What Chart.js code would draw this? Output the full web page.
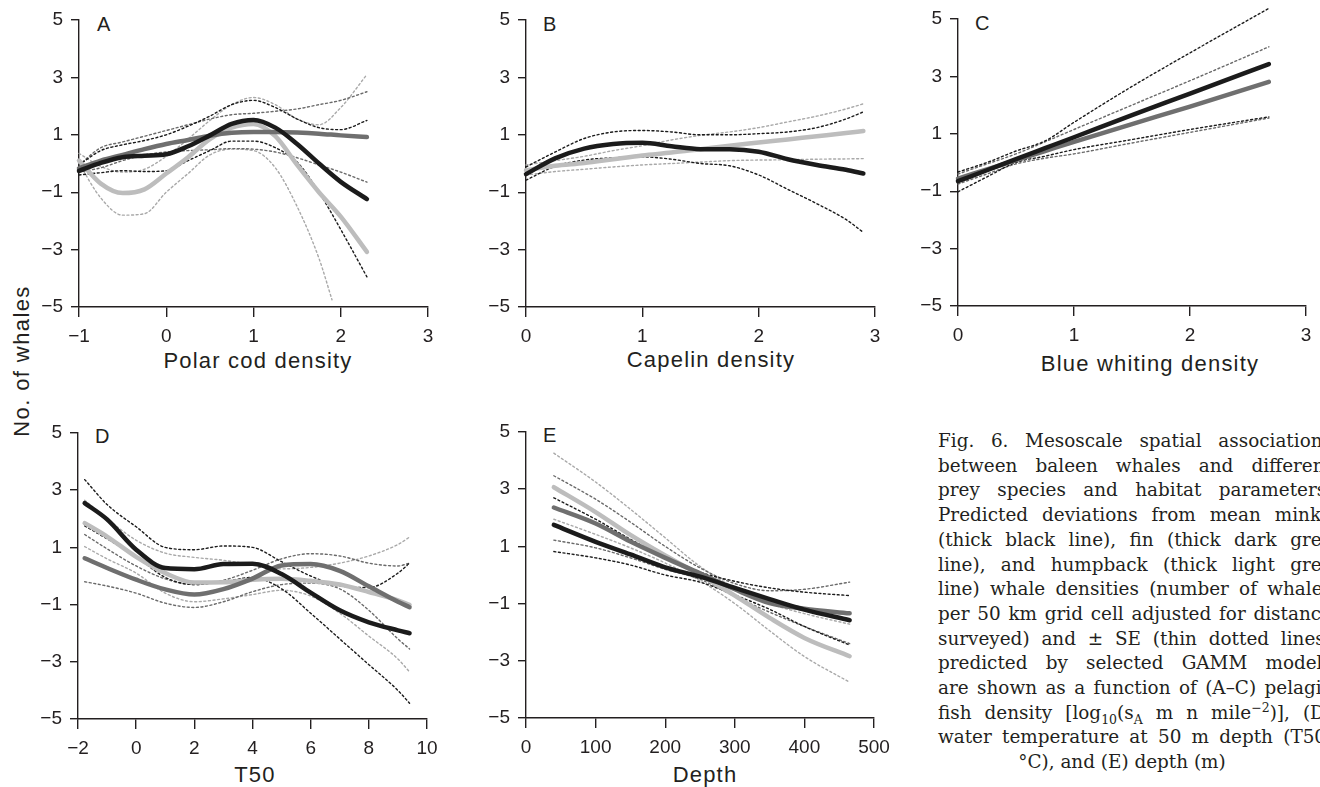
<!DOCTYPE html>
<html>
<head>
<meta charset="utf-8">
<script src="https://cdn.jsdelivr.net/npm/chart.js@4.4.1/dist/chart.umd.min.js"></script>
<style>
  html, body { margin: 0; padding: 0; background: #fff; }
  #page { position: relative; width: 1320px; height: 787px; overflow: hidden;
          font-family: "Liberation Sans", Arial, sans-serif; color: #231f20; }
  #page canvas { position: absolute; }
  .tag { position: absolute; font-size: 20px; line-height: 20px; }
  .xt { position: absolute; width: 300px; margin-left: -150px; text-align: center;
        font-size: 22px; line-height: 22px; letter-spacing: 1.2px; white-space: nowrap; }
  #ylab { position: absolute; left: 22px; top: 361px; font-size: 22px; line-height: 22px;
          letter-spacing: 1.4px; white-space: nowrap; transform: translate(-50%, -50%) rotate(-90deg); }
  #caption { position: absolute; left: 938px; top: 429px; width: 394px;
             font-family: "DejaVu Serif", serif; font-size: 18.4px; line-height: 24.7px; color: #231f20; }
  #caption .ln { display: flex; justify-content: space-between; column-gap: 4px; white-space: nowrap; }
  #caption .end { width: 368px; text-align: center; white-space: nowrap; }
  #caption sub, #caption sup { font-size: 0.68em; line-height: 0; }
</style>
</head>
<body>
<div id="page">
  <div class="tag" style="left:97px;top:14px">A</div>
  <div class="tag" style="left:543px;top:14px">B</div>
  <div class="tag" style="left:975px;top:13px">C</div>
  <div class="tag" style="left:95px;top:426px">D</div>
  <div class="tag" style="left:543px;top:425px">E</div>
  <div class="xt" style="left:258px;top:350px">Polar cod density</div>
  <div class="xt" style="left:711px;top:349px">Capelin density</div>
  <div class="xt" style="left:1150px;top:353px">Blue whiting density</div>
  <div class="xt" style="left:255px;top:764px">T50</div>
  <div class="xt" style="left:705px;top:764px">Depth</div>
  <div id="ylab">No. of whales</div>
  <div id="caption"></div>
</div>
<script>
// Shared y ticks
const yTicks = [-5, -3, -1, 1, 3, 5];

// A: polar cod density
const aTicks = [-1, 0, 1, 2, 3];
const aX = [-1, -0.75, -0.5, -0.25, 0, 0.25, 0.5, 0.75, 1.0, 1.25, 1.5, 1.75, 2.0, 2.3];
const aMinke = [-0.26, 0.02, 0.22, 0.27, 0.32, 0.6, 0.98, 1.38, 1.52, 1.25, 0.68, 0.0, -0.64, -1.24];
const aFin = [-0.17, 0.1, 0.3, 0.5, 0.68, 0.82, 0.97, 1.07, 1.1, 1.1, 1.08, 1.04, 0.98, 0.92];
const aHump = [0.1, -0.7, -1.03, -0.9, -0.35, 0.22, 0.85, 1.25, 1.38, 0.95, -0.05, -1.0, -1.85, -3.08];
const aMinkeHi = [-0.05, 0.45, 0.65, 0.8, 1.0, 1.3, 1.65, 2.05, 2.2, 1.95, 1.55, 1.25, 1.18, 1.5];
const aMinkeLo = [-0.4, -0.32, -0.25, -0.28, -0.25, 0.1, 0.45, 0.78, 0.78, 0.55, 0.05, -1.0, -2.3, -3.95];
const aFinHi = [-0.05, 0.55, 0.75, 0.95, 1.15, 1.35, 1.55, 1.7, 1.75, 1.82, 1.9, 2.05, 2.2, 2.5];
const aFinLo = [-0.3, -0.15, 0.1, 0.3, 0.4, 0.45, 0.48, 0.52, 0.5, 0.4, 0.2, -0.05, -0.3, -0.65];
const aHumpHi = [0.35, -0.1, -0.3, -0.2, 0.25, 0.85, 1.5, 2.05, 2.3, 2.05, 1.55, 1.35, 1.95, 3.1];
const aHumpLoX = [-1, -0.75, -0.5, -0.25, 0, 0.25, 0.5, 0.75, 1.0, 1.25, 1.5, 1.75, 1.9];
const aHumpLo = [0.0, -1.2, -1.8, -1.75, -1.0, -0.35, 0.3, 0.5, 0.45, -0.15, -1.5, -3.3, -4.75];

// B: capelin density
const bTicks = [0, 1, 2, 3];
const bX = [0, 0.25, 0.5, 0.75, 1.0, 1.25, 1.5, 1.75, 2.0, 2.25, 2.5, 2.75, 2.9];
const bMinke = [-0.37, 0.18, 0.52, 0.68, 0.72, 0.6, 0.5, 0.5, 0.41, 0.15, -0.05, -0.22, -0.35];
const bHump = [-0.23, -0.08, 0.02, 0.15, 0.28, 0.38, 0.5, 0.62, 0.73, 0.84, 0.95, 1.06, 1.13];
const bMinkeHi = [-0.12, 0.4, 0.87, 1.1, 1.15, 1.1, 1.0, 1.0, 1.04, 1.1, 1.25, 1.55, 1.8];
const bMinkeLo = [-0.58, -0.1, 0.12, 0.2, 0.23, 0.15, 0.0, -0.08, -0.4, -0.9, -1.4, -1.95, -2.4];
const bHumpHi = [-0.05, 0.1, 0.25, 0.45, 0.62, 0.82, 0.98, 1.1, 1.25, 1.45, 1.65, 1.9, 2.08];
const bHumpLo = [-0.4, -0.28, -0.2, -0.12, -0.05, 0.0, 0.05, 0.1, 0.12, 0.13, 0.15, 0.16, 0.17];

// C: blue whiting density
const cTicks = [0, 1, 2, 3];
const cX = [0, 0.25, 0.5, 0.75, 1.0, 1.5, 2.0, 2.68];
const cMinke = [-0.65, -0.27, 0.12, 0.5, 0.88, 1.65, 2.4, 3.43];
const cFin = [-0.56, -0.24, 0.08, 0.4, 0.72, 1.34, 1.95, 2.81];
const cMinkeHi = [-0.33, 0.0, 0.4, 0.75, 1.4, 2.65, 3.82, 5.37];
const cMinkeLo = [-1.02, -0.5, 0.0, 0.22, 0.45, 0.8, 1.15, 1.59];
const cFinHi = [-0.4, -0.05, 0.3, 0.72, 1.15, 2.0, 2.85, 4.03];
const cFinLo = [-0.75, -0.4, -0.05, 0.15, 0.3, 0.68, 1.05, 1.55];

// D: T50
const dTicks = [-2, 0, 2, 4, 6, 8, 10];
const dX = [-1.77, -1, 0, 1, 2, 3, 4, 5, 6, 7, 8, 9, 9.4];
const dMinke = [2.55, 1.98, 0.92, 0.28, 0.24, 0.42, 0.43, 0.07, -0.58, -1.2, -1.62, -1.9, -2.0];
const dFin = [0.62, 0.28, -0.13, -0.47, -0.65, -0.46, -0.09, 0.37, 0.42, 0.18, -0.36, -0.9, -1.09];
const dHump = [1.85, 1.38, 0.67, 0.1, -0.23, -0.22, -0.13, -0.1, -0.17, -0.3, -0.56, -0.85, -1.01];
const dMinkeHi = [3.37, 2.5, 1.72, 1.0, 0.92, 1.05, 1.0, 0.5, 0.0, -0.35, -0.4, 0.1, 0.45];
const dMinkeLo = [1.75, 1.3, 0.68, -0.05, -0.3, -0.2, -0.05, -0.45, -1.3, -2.2, -3.1, -4.0, -4.45];
const dFinHi = [1.45, 0.95, 0.35, -0.1, -0.3, -0.15, 0.2, 0.6, 0.78, 0.7, 0.45, 0.35, 0.45];
const dFinLo = [-0.2, -0.35, -0.6, -0.95, -1.1, -0.9, -0.55, -0.3, -0.25, -0.45, -1.2, -2.2, -2.55];
const dHumpHi = [2.65, 2.0, 1.25, 0.8, 0.65, 0.55, 0.4, 0.25, 0.3, 0.45, 0.7, 1.1, 1.36];
const dHumpLo = [1.03, 0.6, 0.1, -0.6, -0.9, -0.8, -0.65, -0.5, -0.7, -1.3, -2.1, -2.9, -3.35];

// E: depth
const eTicks = [0, 100, 200, 300, 400, 500];
const eX = [40, 100, 150, 200, 250, 300, 350, 400, 465];
const eMinke = [1.75, 1.16, 0.72, 0.27, -0.06, -0.45, -0.84, -1.21, -1.58];
const eFin = [2.36, 1.8, 1.17, 0.6, 0.06, -0.5, -0.98, -1.18, -1.34];
const eHump = [3.07, 2.2, 1.4, 0.68, 0.0, -0.72, -1.5, -2.2, -2.84];
const eMinkeHi = [2.7, 1.95, 1.25, 0.6, 0.1, -0.22, -0.45, -0.6, -0.72];
const eMinkeLo = [0.82, 0.6, 0.35, 0.0, -0.25, -0.7, -1.2, -1.8, -2.45];
const eFinHi = [3.47, 2.65, 1.85, 1.0, 0.25, -0.3, -0.55, -0.5, -0.25];
const eFinLo = [1.22, 0.95, 0.6, 0.2, -0.15, -0.75, -1.3, -1.8, -2.4];
const eHumpHi = [4.26, 3.25, 2.3, 1.3, 0.3, -0.45, -1.0, -1.35, -1.72];
const eHumpLo = [1.95, 1.42, 0.95, 0.42, -0.2, -1.0, -1.95, -2.85, -3.75];

const captionLines = [
  "Fig. 6. Mesoscale spatial associations",
  "between baleen whales and different",
  "prey species and habitat parameters.",
  "Predicted deviations from mean minke",
  "(thick black line), fin (thick dark grey",
  "line), and humpback (thick light grey",
  "line) whale densities (number of whales",
  "per 50 km grid cell adjusted for distance",
  "surveyed) and \u00b1 SE (thin dotted lines)",
  "predicted by selected GAMM models",
  "are shown as a function of (A\u2013C) pelagic",
  "fish density [log<sub>10</sub>(s<sub>A</sub> m n mile<sup>\u22122</sup>)], (D)",
  "water temperature at 50 m depth (T50,"
];
const captionEnd = "\u00b0C), and (E) depth (m)";

const ink = "#231f20";
const minkeColor = "#1b1b1b", finColor = "#6f6f6f", humpColor = "#bdbdbd";
const finDot = "#6a6a6a", humpDot = "#a9a9a9";
const page = document.getElementById("page");

function pts(xs, ys) {
  return xs.map(function (x, i) { return { x: x, y: ys[i] }; });
}
function thick(xs, ys, color, order) {
  return { data: pts(xs, ys), borderColor: color, borderWidth: 4.5, order: order };
}
function dotted(xs, ys, color) {
  return { data: pts(xs, ys), borderColor: color, borderWidth: 1.4, borderDash: [2, 2.6], order: 10 };
}
function signed(v) {
  return v < 0 ? "\u2212" + Math.abs(v) : String(v);
}

// box = canvas [left, top, width, height]; area = plot area [left, top, right, bottom] in page px
function panel(box, area, xMin, xMax, xTicks, datasets) {
  const canvas = document.createElement("canvas");
  canvas.width = box[2];
  canvas.height = box[3];
  canvas.style.left = box[0] + "px";
  canvas.style.top = box[1] + "px";
  page.appendChild(canvas);

  const yWidth = 60;
  const left = area[0] - box[0], top = area[1] - box[1];
  const right = area[2] - box[0], bottom = area[3] - box[1];
  const xHeight = box[3] - bottom;
  const font = { family: "'Liberation Sans', Arial, sans-serif", size: 19 };

  new Chart(canvas, {
    type: "line",
    data: { datasets: datasets },
    options: {
      responsive: false,
      animation: false,
      devicePixelRatio: 1,
      events: [],
      layout: { padding: { left: left - yWidth, top: top, right: box[2] - right, bottom: 0 } },
      elements: {
        point: { radius: 0, hoverRadius: 0 },
        line: { cubicInterpolationMode: "monotone", fill: false, borderCapStyle: "round", borderJoinStyle: "round" }
      },
      datasets: { line: { clip: false } },
      plugins: { legend: { display: false }, tooltip: { enabled: false } },
      scales: {
        x: {
          type: "linear",
          min: xMin,
          max: xMax,
          afterBuildTicks: function (s) { s.ticks = xTicks.map(function (v) { return { value: v }; }); },
          afterFit: function (s) { s.height = xHeight; s.paddingLeft = 0; s.paddingRight = 0; },
          grid: { drawOnChartArea: false, drawTicks: true, tickLength: 10, color: ink, lineWidth: 1.4 },
          border: { display: true, color: ink, width: 1.4 },
          ticks: { color: ink, font: font, padding: 8, maxRotation: 0, autoSkip: false, callback: signed }
        },
        y: {
          min: -5,
          max: 5,
          afterBuildTicks: function (s) { s.ticks = yTicks.map(function (v) { return { value: v }; }); },
          afterFit: function (s) { s.width = yWidth; s.paddingTop = 0; s.paddingBottom = 0; },
          grid: { drawOnChartArea: false, drawTicks: true, tickLength: 8, color: ink, lineWidth: 1.4 },
          border: { display: true, color: ink, width: 1.4 },
          ticks: { color: ink, font: font, padding: 8, autoSkip: false, callback: signed }
        }
      }
    }
  });
}

panel([0, 0, 445, 390], [79, 20, 428, 307], -1, 3, aTicks, [
  thick(aX, aMinke, minkeColor, 1), thick(aX, aFin, finColor, 2), thick(aX, aHump, humpColor, 3),
  dotted(aX, aMinkeHi, minkeColor), dotted(aX, aMinkeLo, minkeColor),
  dotted(aX, aFinHi, finDot), dotted(aX, aFinLo, finDot),
  dotted(aX, aHumpHi, humpDot), dotted(aHumpLoX, aHumpLo, humpDot)
]);

panel([440, 0, 450, 390], [526, 20, 875, 307], 0, 3, bTicks, [
  thick(bX, bMinke, minkeColor, 1), thick(bX, bHump, humpColor, 3),
  dotted(bX, bMinkeHi, minkeColor), dotted(bX, bMinkeLo, minkeColor),
  dotted(bX, bHumpHi, humpDot), dotted(bX, bHumpLo, humpDot)
]);

panel([890, 0, 430, 390], [958, 19, 1306, 306], 0, 3, cTicks, [
  thick(cX, cMinke, minkeColor, 1), thick(cX, cFin, finColor, 2),
  dotted(cX, cMinkeHi, minkeColor), dotted(cX, cMinkeLo, minkeColor),
  dotted(cX, cFinHi, finDot), dotted(cX, cFinLo, finDot)
]);

panel([0, 410, 445, 377], [78, 433, 427, 719], -2, 10, dTicks, [
  thick(dX, dMinke, minkeColor, 1), thick(dX, dFin, finColor, 2), thick(dX, dHump, humpColor, 3),
  dotted(dX, dMinkeHi, minkeColor), dotted(dX, dMinkeLo, minkeColor),
  dotted(dX, dFinHi, finDot), dotted(dX, dFinLo, finDot),
  dotted(dX, dHumpHi, humpDot), dotted(dX, dHumpLo, humpDot)
]);

panel([440, 410, 450, 377], [526, 432, 874, 718], 0, 500, eTicks, [
  thick(eX, eMinke, minkeColor, 1), thick(eX, eFin, finColor, 2), thick(eX, eHump, humpColor, 3),
  dotted(eX, eMinkeHi, minkeColor), dotted(eX, eMinkeLo, minkeColor),
  dotted(eX, eFinHi, finDot), dotted(eX, eFinLo, finDot),
  dotted(eX, eHumpHi, humpDot), dotted(eX, eHumpLo, humpDot)
]);

// Caption: each line justified word by word
const caption = document.getElementById("caption");
captionLines.forEach(function (line) {
  const row = document.createElement("div");
  row.className = "ln";
  line.split(" ").forEach(function (word) {
    const span = document.createElement("span");
    span.innerHTML = word;
    row.appendChild(span);
  });
  caption.appendChild(row);
});
const last = document.createElement("div");
last.className = "end";
last.textContent = captionEnd;
caption.appendChild(last);
</script>
</body>
</html>
